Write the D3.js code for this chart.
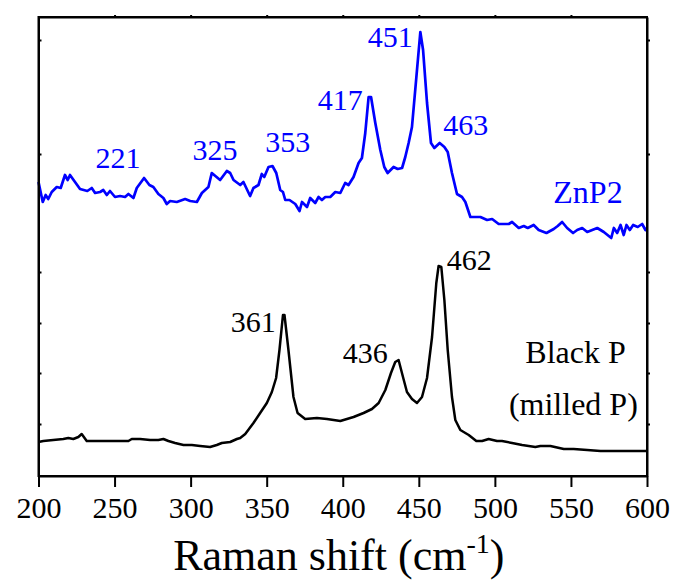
<!DOCTYPE html>
<html>
<head>
<meta charset="utf-8">
<script src="https://cdn.jsdelivr.net/npm/d3@7"></script>
<style>
  body { margin: 0; background: #fff; }
</style>
</head>
<body>
<div id="chart"></div>
<script>
// Raman shift (cm-1) and intensity (arb. units)
let znpShift = [200, 202.8, 204.7, 206.4, 208.7, 212, 214.6, 217.4, 219.2, 220.7, 224, 227.3, 232.1, 235, 237.2, 240.5, 242.6, 244.9, 247, 250.3, 253.6, 256.9, 259.1, 262.4, 264.6, 269.4, 272.9, 275.5, 278.8, 282.1, 284.3, 286.5, 290.9, 296.4, 299.7, 304.1, 307.4, 311.7, 313.9, 319.4, 323.8, 326, 328.2, 332.6, 334.7, 339.1, 341.3, 344.6, 346.8, 348.4, 351.2, 353.8, 356.3, 358.9, 360.7, 362.2, 365, 368.8, 371.6, 373.2, 376.5, 378.6, 381.9, 384.1, 386.3, 388.5, 391.8, 395.1, 398.4, 401.6, 403.8, 407.1, 410.4, 412.6, 414.8, 417, 418.6, 421.4, 424.7, 427.3, 429.5, 433.4, 436.1, 439, 441.1, 443.3, 445.5, 448.4, 451, 452.8, 455.4, 458, 460.2, 463.7, 466.8, 469, 471.8, 475.1, 478.4, 480.6, 483.9, 490.5, 494.9, 498.2, 502.5, 509.1, 511.3, 515.7, 519, 521.6, 525.5, 528.8, 533.9, 538.7, 541.3, 544.2, 547.5, 551.4, 554.1, 557.4, 560.7, 564, 567.3, 571.6, 576.5, 578.2, 580.4, 582.6, 584.7, 586.5, 588.7, 590.9, 593.9, 596.8, 599, 600];
let znpIntensity = [294, 274, 281, 277, 284, 289, 288, 301, 296, 301, 294, 287, 285, 288, 283, 284, 286, 281, 285, 279, 280, 279, 282, 278, 288, 298, 291, 289, 282, 278, 272, 275, 274, 277, 275, 274, 283, 289, 303, 296, 305, 303, 296, 291, 294, 280, 288, 291, 302, 299, 309, 310, 303, 286, 284, 276, 276, 272, 265, 274, 269, 278, 273, 279, 276, 279, 279, 284, 283, 293, 291, 299, 313, 318, 343, 379, 379, 353, 326, 309, 303, 309, 307, 308, 319, 333, 349, 399, 444, 426, 373, 333, 328, 333, 329, 324, 303, 282, 279, 274, 259, 259, 256, 257, 252, 252, 254, 248, 250, 248, 251, 246, 243, 247, 250, 254, 248, 243, 246, 248, 244, 246, 248, 244, 238, 248, 243, 251, 241, 251, 246, 251, 249, 252, 246, 248];

let bpShift = [200, 203.2, 209.7, 216.3, 219.6, 222.9, 226.2, 228.4, 231.7, 238.3, 247, 255.8, 259.1, 261.3, 266.8, 273.4, 278.8, 282.1, 285.4, 289.8, 295.3, 300.8, 306.3, 312.8, 317.2, 320.5, 326, 330.4, 332.6, 335.9, 341.3, 345.7, 350.1, 353.4, 356.2, 358.4, 360.7, 361.7, 364.3, 367.6, 370.3, 375.3, 383, 389.6, 398.4, 407.1, 413.7, 419.2, 423.6, 428, 431.7, 434.5, 436.7, 439.6, 442.2, 445.5, 448.8, 452.1, 455.4, 458.7, 461.5, 463, 464.8, 466.8, 469, 471.8, 474, 477.3, 482.8, 487.8, 491.6, 495.9, 501.4, 504.7, 511.3, 517.9, 526.6, 529.9, 536.5, 545.3, 551.8, 560.7, 569.4, 582.6, 591.4, 600];
let bpIntensity = [34, 35, 36, 37, 38, 37, 39, 42, 35, 35, 35, 35, 35, 37, 37, 36, 36, 37, 35, 33, 31, 31, 30, 29, 31, 33, 34, 37, 38, 42, 53, 63, 73, 84, 98, 126, 161, 161, 126, 79, 63, 57, 58, 57, 55, 59, 63, 67, 73, 86, 103, 114, 116, 99, 84, 77, 73, 79, 98, 139, 193, 210, 209, 176, 126, 79, 56, 46, 41, 35, 35, 37, 35, 35, 33, 31, 29, 30, 30, 27, 27, 26, 25, 25, 25, 25];

let xTicks = [200, 250, 300, 350, 400, 450, 500, 550, 600];
let yTicks = [52, 103, 153, 204, 322, 436];

let znpLabels = ["221", "325", "353", "417", "451", "463"];
let bpLabels = ["361", "436", "462"];

// label anchors (shift, intensity) for the text above
let znpLabelPos = [[252.3, 308], [316.1, 316], [363.8, 324], [398.4, 366], [431.3, 429], [480.9, 341]];
let bpLabelPos = [[341.1, 144], [414.8, 113], [483.2, 206]];

let margin = { top: 17, right: 28, bottom: 105, left: 38.5 },
    width = 675 - margin.left - margin.right,
    height = 581 - margin.top - margin.bottom;

let x = d3.scaleLinear().domain([200, 600]).range([0, width]);
let y = d3.scaleLinear().domain([0, height]).range([height, 0]);

let root = d3.select("#chart").append("svg")
    .attr("width", 675)
    .attr("height", 581);

let svg = root.append("g")
    .attr("transform", "translate(" + margin.left + "," + margin.top + ")");

let line = d3.line()
    .x(function(d) { return x(d[0]); })
    .y(function(d) { return y(d[1]); });

// spectra
svg.append("path")
    .datum(bpShift.map(function(s, i) { return [s, bpIntensity[i]]; }))
    .attr("fill", "none")
    .attr("stroke", "#000")
    .attr("stroke-width", 2.5)
    .attr("stroke-linejoin", "round")
    .attr("d", line);

svg.append("path")
    .datum(znpShift.map(function(s, i) { return [s, znpIntensity[i]]; }))
    .attr("fill", "none")
    .attr("stroke", "#0000ff")
    .attr("stroke-width", 2.7)
    .attr("stroke-linejoin", "round")
    .attr("d", line);

// axes
let bottom = svg.append("g")
    .attr("transform", "translate(0," + height + ")")
    .call(d3.axisBottom(x).tickValues(xTicks).tickSize(11).tickSizeOuter(0).tickPadding(10));
bottom.attr("font-family", null).attr("font-size", null);
bottom.selectAll("text").attr("font-size", 30).attr("fill", "#000");

svg.append("g")
    .call(d3.axisTop(x).tickValues(xTicks.slice(1, -1)).tickSize(2).tickSizeOuter(0).tickFormat(""));
svg.append("g")
    .call(d3.axisLeft(y).tickValues(yTicks).tickSize(-3).tickSizeOuter(0).tickFormat(""));
svg.append("g")
    .attr("transform", "translate(" + width + ",0)")
    .call(d3.axisRight(y).tickValues(yTicks).tickSize(3).tickSizeOuter(0).tickFormat(""));

svg.selectAll(".domain").attr("stroke", "#000").attr("stroke-width", 2);
svg.selectAll(".tick line").attr("stroke", "#000").attr("stroke-width", 2);

// frame
svg.append("rect")
    .attr("width", width)
    .attr("height", height)
    .attr("fill", "none")
    .attr("stroke", "#000")
    .attr("stroke-width", 2);

// peak labels
svg.selectAll(".znp-label")
    .data(znpLabels)
    .enter()
    .append("text")
    .attr("class", "znp-label")
    .attr("x", function(d, i) { return x(znpLabelPos[i][0]); })
    .attr("y", function(d, i) { return y(znpLabelPos[i][1]); })
    .attr("text-anchor", "middle")
    .attr("font-size", 30)
    .attr("fill", "#0000ff")
    .text(function(d) { return d; });

svg.selectAll(".bp-label")
    .data(bpLabels)
    .enter()
    .append("text")
    .attr("class", "bp-label")
    .attr("x", function(d, i) { return x(bpLabelPos[i][0]); })
    .attr("y", function(d, i) { return y(bpLabelPos[i][1]); })
    .attr("text-anchor", "middle")
    .attr("font-size", 30)
    .attr("fill", "#000")
    .text(function(d) { return d; });

// sample names
svg.append("text")
    .attr("x", x(561.2)).attr("y", y(273))
    .attr("text-anchor", "middle")
    .attr("font-size", 32)
    .attr("fill", "#0000ff")
    .text("ZnP2");

svg.append("text")
    .attr("x", x(553)).attr("y", y(113))
    .attr("text-anchor", "middle")
    .attr("font-size", 32)
    .text("Black P");

svg.append("text")
    .attr("x", x(551.6)).attr("y", y(61))
    .attr("text-anchor", "middle")
    .attr("font-size", 32)
    .text("(milled P)");

// x axis title
let title = svg.append("text")
    .attr("x", width / 2 - 4)
    .attr("y", height + 94)
    .attr("text-anchor", "middle")
    .attr("font-size", 44);
title.append("tspan").text("Raman shift (cm");
title.append("tspan").attr("font-size", 28).attr("dy", -17).text("-1");
title.append("tspan").attr("dy", 17).text(")");

root.selectAll("text, tspan").style("font-family", "Liberation Serif");
</script>
</body>
</html>
